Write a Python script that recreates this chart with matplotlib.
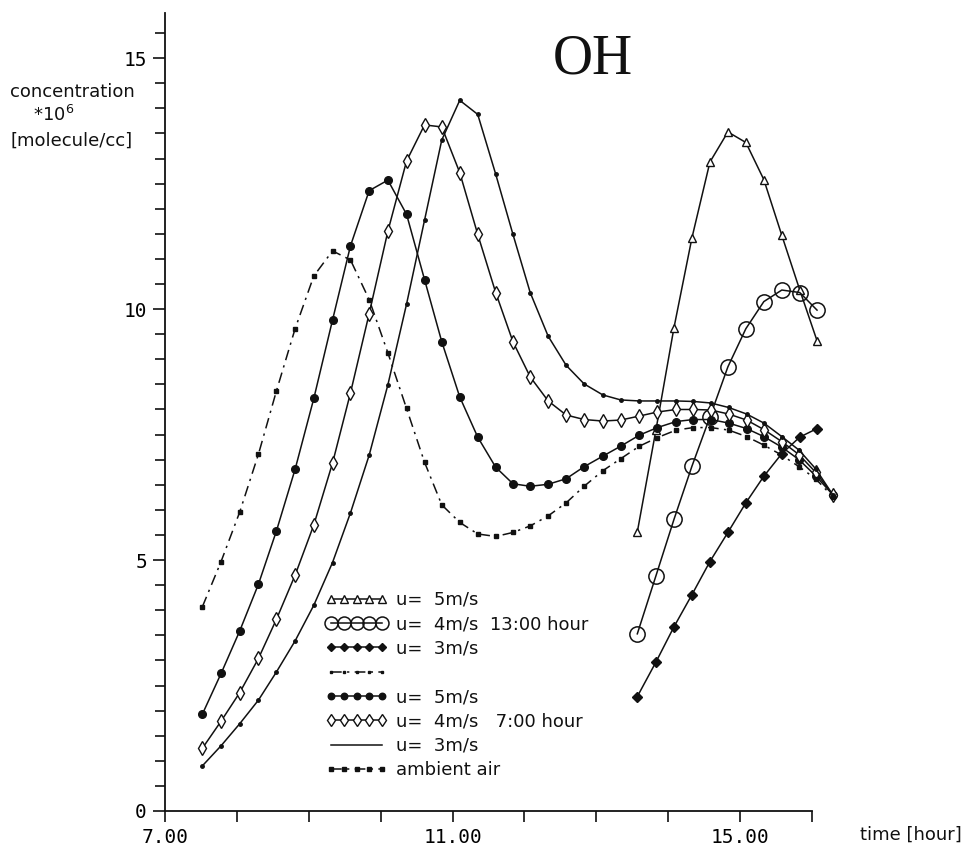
#!/usr/bin/env python3

'''Plot OH concentration vs time of day for the 7:00 and 13:00 runs.'''

import matplotlib
matplotlib.use('Agg')
import matplotlib.pyplot as plt
from matplotlib.lines import Line2D
from matplotlib.ticker import FixedLocator, MultipleLocator


# 7:00 hour runs (time in hours, concentration in 1e6 molecule/cc)
T7 = [7.52, 7.78, 8.04, 8.30, 8.55, 8.81, 9.07, 9.33, 9.58, 9.84,
      10.10, 10.36, 10.61, 10.85, 11.10, 11.35, 11.60, 11.84, 12.08, 12.33,
      12.58, 12.83, 13.09, 13.34, 13.60, 13.85, 14.11, 14.35, 14.59, 14.84,
      15.09, 15.33, 15.58, 15.82, 16.05, 16.29]
U5_7 = [1.93, 2.74, 3.59, 4.52, 5.58, 6.81, 8.22, 9.78, 11.26, 12.36,
        12.57, 11.89, 10.59, 9.35, 8.25, 7.45, 6.85, 6.52, 6.47, 6.51,
        6.62, 6.86, 7.07, 7.27, 7.49, 7.64, 7.76, 7.80, 7.80, 7.73,
        7.62, 7.46, 7.25, 7.00, 6.68, 6.30]
U4_7 = [1.25, 1.79, 2.36, 3.04, 3.82, 4.70, 5.70, 6.93, 8.33, 9.91,
        11.55, 12.95, 13.67, 13.63, 12.72, 11.49, 10.33, 9.35, 8.65, 8.17,
        7.89, 7.80, 7.77, 7.79, 7.87, 7.95, 8.00, 8.00, 7.99, 7.91,
        7.79, 7.60, 7.36, 7.10, 6.75, 6.30]
U3_7 = [0.90, 1.30, 1.74, 2.21, 2.77, 3.39, 4.10, 4.95, 5.94, 7.09,
        8.49, 10.10, 11.77, 13.37, 14.16, 13.88, 12.69, 11.49, 10.33, 9.46,
        8.88, 8.51, 8.29, 8.19, 8.17, 8.17, 8.17, 8.16, 8.13, 8.04,
        7.91, 7.73, 7.46, 7.19, 6.82, 6.30]
AMBIENT = [4.07, 4.97, 5.96, 7.11, 8.37, 9.61, 10.66, 11.16, 10.98, 10.19,
           9.13, 8.02, 6.95, 6.10, 5.75, 5.52, 5.47, 5.55, 5.68, 5.88,
           6.14, 6.47, 6.78, 7.02, 7.27, 7.44, 7.59, 7.64, 7.64, 7.59,
           7.46, 7.29, 7.09, 6.86, 6.62, 6.26]

# 13:00 hour runs
T13 = [13.57, 13.83, 14.08, 14.33, 14.58, 14.83, 15.08, 15.33, 15.58,
       15.83, 16.07]
U5_13 = [5.56, 7.60, 9.63, 11.42, 12.93, 13.53, 13.32, 12.58, 11.47,
         10.38, 9.37]
U4_13 = [3.53, 4.69, 5.81, 6.87, 7.85, 8.85, 9.61, 10.15, 10.38,
         10.33, 9.98]
U3_13 = [2.28, 2.97, 3.67, 4.31, 4.97, 5.55, 6.14, 6.67, 7.12,
         7.45, 7.62]

X_TICKS = [7, 11, 15]
X_TICK_LABELS = ['7.00', '11.00', '15.00']
Y_TICKS = [0, 5, 10, 15]

LEGEND_LABELS = ['u=  5m/s', 'u=  4m/s  13:00 hour', 'u=  3m/s', ' ',
                 'u=  5m/s', 'u=  4m/s   7:00 hour', 'u=  3m/s',
                 'ambient air']

LW = 1.1
INK = '#111111'
TEXT_FONT = 'DejaVu Sans'
TICK_FONT = 'DejaVu Sans Mono'
DASHDOT = (0, (7, 3.5, 1.5, 3.5))


def format_axis(axis):
    '''Plotter style axes: only left and bottom, ticks outward.'''
    for side in ('top', 'right'):
        axis.spines[side].set_visible(False)
    for side in ('left', 'bottom'):
        axis.spines[side].set_linewidth(1.3)
        axis.spines[side].set_color(INK)
    axis.set_xlim(7, 16)
    axis.set_ylim(0, 15.9)

    axis.xaxis.set_major_locator(FixedLocator(X_TICKS))
    axis.xaxis.set_minor_locator(MultipleLocator(1))
    axis.set_xticklabels(X_TICK_LABELS, family=TICK_FONT, fontsize=14)
    axis.yaxis.set_major_locator(FixedLocator(Y_TICKS))
    axis.yaxis.set_minor_locator(MultipleLocator(0.5))
    axis.set_yticklabels([str(v) for v in Y_TICKS], family=TICK_FONT,
                         fontsize=14)

    axis.tick_params(axis='x', which='both', direction='out', length=8,
                     width=1.2, color=INK, pad=4)
    axis.tick_params(axis='y', which='major', direction='out', length=9,
                     width=1.2, color=INK, pad=4)
    axis.tick_params(axis='y', which='minor', direction='out', length=7,
                     width=1.2, color=INK)


def plot_curves(axis):
    '''Draw the seven runs and return the legend handles.'''
    common = dict(color=INK, linewidth=LW, clip_on=False)
    h13_5, = axis.plot(T13, U5_13, marker='^', markersize=6,
                       markerfacecolor='white', **common)
    h13_4, = axis.plot(T13, U4_13, marker='o', markersize=11,
                       markerfacecolor='none', markeredgewidth=1.1, **common)
    h13_3, = axis.plot(T13, U3_13, marker='D', markersize=5, **common)
    h7_5, = axis.plot(T7, U5_7, marker='o', markersize=5.5, **common)
    h7_4, = axis.plot(T7, U4_7, marker='d', markersize=7,
                      markerfacecolor='white', **common)
    axis.plot(T7, U3_7, marker='o', markersize=2.5, **common)
    h_amb, = axis.plot(T7, AMBIENT, marker='s', markersize=3,
                       linestyle=DASHDOT, **common)
    blank = Line2D([], [], color=INK, linewidth=LW, marker='s',
                   markersize=2.5, linestyle=DASHDOT)
    plain = Line2D([], [], color=INK, linewidth=LW)
    return [h13_5, h13_4, h13_3, blank, h7_5, h7_4, plain, h_amb]


def format_plot(fig, handles):
    '''Title, axis captions and legend.'''
    fig.text(593 / 978, 1 - 60 / 849, 'OH', ha='center', va='center',
             family='Liberation Serif', fontsize=40, color=INK)

    fig.text(10 / 978, 1 - 97 / 849, 'concentration', ha='left',
             va='baseline', family=TEXT_FONT, fontsize=13, color=INK)
    fig.text(33 / 978, 1 - 121 / 849, r'*10$^6$', ha='left',
             va='baseline', family=TEXT_FONT, fontsize=13, color=INK)
    fig.text(10 / 978, 1 - 146 / 849, '[molecule/cc]', ha='left',
             va='baseline', family=TEXT_FONT, fontsize=13, color=INK)
    fig.text(860 / 978, 1 - 840 / 849, 'time [hour]', ha='left',
             va='baseline', family=TEXT_FONT, fontsize=13, color=INK)

    leg = fig.legend(handles, LEGEND_LABELS, loc='upper left',
                     bbox_to_anchor=(326 / 978, 1 - 591 / 849),
                     bbox_transform=fig.transFigure, frameon=False,
                     borderpad=0, borderaxespad=0, numpoints=5,
                     markerscale=0.85, handlelength=3.4,
                     handletextpad=0.45, labelspacing=0.35,
                     prop={'family': TEXT_FONT, 'size': 13})
    for text in leg.get_texts():
        text.set_color(INK)


def main():
    fig = plt.figure(figsize=(9.78, 8.49), dpi=100)
    axis = fig.add_axes([165 / 978, 1 - 811 / 849,
                         (812 - 165) / 978, (811 - 13) / 849])
    format_axis(axis)
    handles = plot_curves(axis)
    format_plot(fig, handles)
    fig.savefig('out.png', dpi=100)


if __name__ == '__main__':
    main()
